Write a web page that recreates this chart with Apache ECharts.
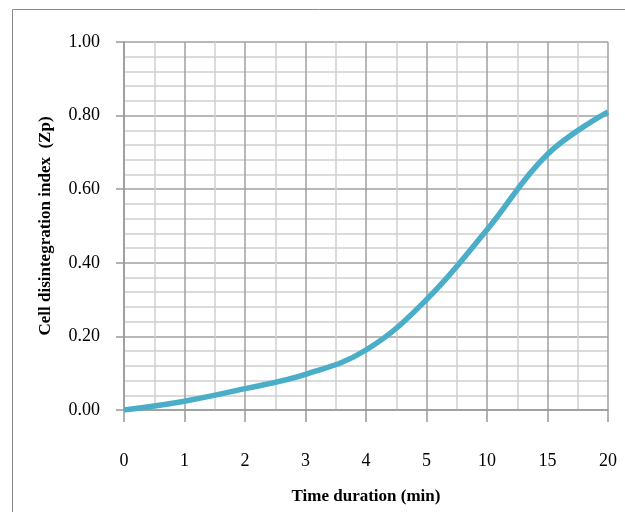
<!DOCTYPE html>
<html><head><meta charset="utf-8">
<script src="https://cdn.jsdelivr.net/npm/echarts@6/dist/echarts.min.js"></script>
<style>html,body{margin:0;padding:0;background:#fff}#c{width:625px;height:512px}</style>
</head><body><div id="c"></div>
<script>
const categories = ['0','1','2','3','4','5','10','15','20'];
const zpValues = [0, 0.024, 0.058, 0.097, 0.163, 0.30, 0.49, 0.695, 0.81];
const yTicks = [0, 0.2, 0.4, 0.6, 0.8, 1.0];

const chart = echarts.init(document.getElementById('c'), null, {renderer:'canvas'});
const font = '"Liberation Serif", "Times New Roman", serif';
chart.setOption({
  animation:false,
  backgroundColor:'#fff',
  graphic:[{type:'rect', shape:{x:12.5,y:9.5,width:640,height:540}, style:{fill:'none',stroke:'#8a8a8a',lineWidth:1}, silent:true}],
  grid:{left:124, right:17, top:42, bottom:102},
  xAxis:{
    type:'value', min:0, max:categories.length-1, interval:1,
    name:'Time duration (min)', nameLocation:'middle', nameGap:78,
    nameTextStyle:{fontFamily:font, fontWeight:'bold', fontSize:17, color:'#000'},
    axisLine:{show:true, lineStyle:{color:'#999', width:1.5}},
    axisTick:{show:true, length:12, lineStyle:{color:'#999', width:1.5}},
    axisLabel:{margin:42, fontFamily:font, fontSize:18, color:'#000',
      formatter:v=>categories[Math.round(v)] },
    splitLine:{show:true, lineStyle:{color:'#a0a0a0', width:1.5}},
    minorTick:{show:false, splitNumber:2},
    minorSplitLine:{show:true, lineStyle:{color:'#d0d0d0', width:1.5}}
  },
  yAxis:{
    type:'value', min:0, max:1, interval:0.2,
    name:'Cell disintegration index  (Zp)', nameLocation:'middle', nameGap:70,
    nameTextStyle:{fontFamily:font, fontWeight:'bold', fontSize:17, color:'#000'},
    axisLine:{show:true, lineStyle:{color:'#999', width:1.5}},
    axisTick:{show:true, length:8, lineStyle:{color:'#999', width:1.5}},
    axisLabel:{margin:24, fontFamily:font, fontSize:18, color:'#000',
      formatter:v=>v.toFixed(2)},
    splitLine:{show:true, lineStyle:{color:'#a0a0a0', width:1.5}},
    minorTick:{show:false, splitNumber:5},
    minorSplitLine:{show:true, lineStyle:{color:'#d0d0d0', width:1.5}}
  },
  series:[{
    type:'line', smooth:0.4, showSymbol:false,
    data: zpValues.map((v,i)=>[i,v]),
    lineStyle:{color:'#4aaec8', width:5.5},
    itemStyle:{color:'#4aaec8'}
  }]
});
</script></body></html>
